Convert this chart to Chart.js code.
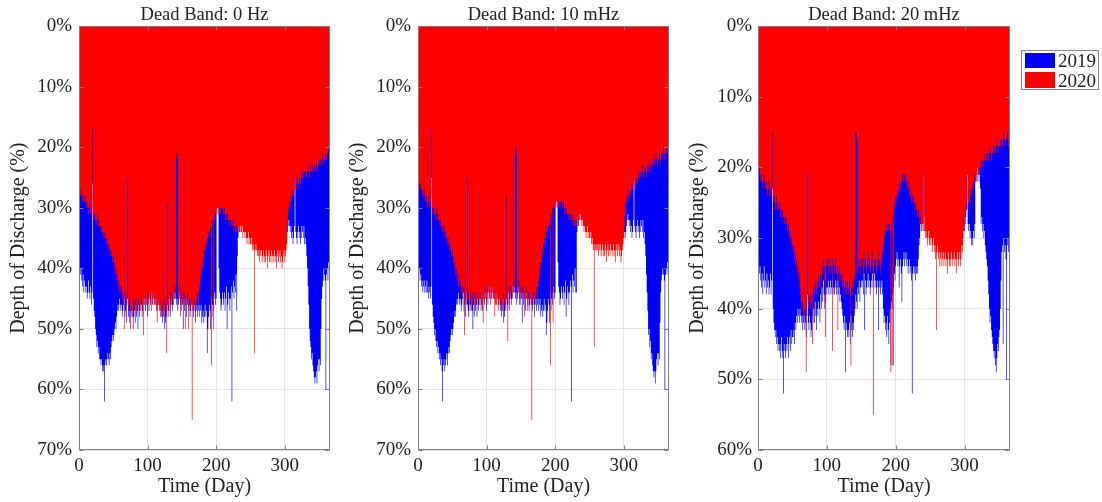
<!DOCTYPE html>
<html lang="en">
<head>
<meta charset="UTF-8">
<title>Depth of Discharge by Dead Band</title>
<script src="https://cdn.jsdelivr.net/npm/chart.js"></script>
<style>
  body {
    margin: 0;
    background: #fff;
    width: 1102px;
    height: 502px;
    overflow: hidden;
    position: relative;
    font-family: 'Liberation Serif', 'Times New Roman', serif;
  }
  canvas { position: absolute; top: 0; }
  #c1 { left: 0; }
  #c2 { left: 340px; }
  #c3 { left: 680px; }
  .legend {
    position: absolute; left: 1021px; top: 50px;
    width: 76px; height: 38px;
    border: 1px solid #8a8a8a; background: #fff;
  }
  .legend .sw { position: absolute; left: 3px; width: 30px; height: 15px; }
  .legend .lbl { position: absolute; left: 36px; font-size: 19px; line-height: 20px; color: #222; }
</style>
</head>
<body>
  <canvas id="c1" width="345" height="502"></canvas>
  <canvas id="c2" width="344" height="502"></canvas>
  <canvas id="c3" width="345" height="502"></canvas>
  <div class="legend">
    <div class="sw" style="top:2px; background:#0000ff;"></div>
    <div class="lbl" style="top:0px;">2019</div>
    <div class="sw" style="top:21px; height:16px; background:#ff0000;"></div>
    <div class="lbl" style="top:20px;">2020</div>
  </div>

<script>
const panelTitles = ['Dead Band: 0 Hz', 'Dead Band: 10 mHz', 'Dead Band: 20 mHz'];
const yMaxes = [70, 70, 60];
const days = Array.from({ length: 365 }, (_, i) => i + 1);

// depth of discharge (%) per day, dead band 0 Hz
const dead0_2019 = [
  39,41,40,42,43,41,44,42,43,44, 43,45,44,42,44,45,43,46,44,26,
  45,47,48,50,51,53,52,54,53,55, 55,56,55,57,56,57,62,56,55,56,
  55,54,55,56,54,55,53,52,51,52, 51,50,49,50,48,47,46,47,45,46,
  47,46,48,47,46,45,48,47,49,46, 45,48,47,49,46,48,47,46,50,48,
  47,49,46,48,47,50,46,48,47,45, 46,48,47,45,46,44,47,45,46,48,
  45,47,44,46,45,43,46,44,45,46, 44,46,45,47,45,46,44,47,46,48,
  47,49,48,46,50,49,48,47,46,48, 47,45,48,46,45,47,46,44,45,44,
  45,46,45,47,46,44,45,46,47,45, 46,50,45,47,46,45,48,46,45,47,
  46,48,47,46,45,47,48,46,47,49, 47,46,48,47,46,48,47,46,49,48,
  47,49,48,46,48,47,54,50,48,46, 47,50,45,48,46,47,45,44,46,45,
  30,29,30,40,44,45,47,46,44,45, 46,44,47,45,43,50,46,44,45,47,
  45,43,62,44,42,45,43,44,41,47, 38,35,33,34,32,33,31,33,32,31,
  32,33,31,32,33,34,32,33,32,33, 34,33,32,34,33,35,34,33,34,35,
  35,34,36,35,34,35,36,34,35,36, 35,36,34,35,37,35,34,36,35,36,
  34,35,36,35,34,36,35,37,35,34, 36,35,34,36,35,37,36,35,34,36,
  35,36,35,34,33,32,33,34,33,35, 34,36,35,33,25,34,35,36,34,33,
  35,34,36,35,33,34,35,33,36,35, 36,38,40,43,46,50,52,53,55,54,
  56,57,58,59,58,57,59,56,55,57, 55,56,50,45,43,42,40,41,42,60,
  41,40,42,39,40
];
const dead0_2020 = [
  28,28,27,28,29,28,29,29,28,29, 30,29,30,31,30,29,31,30,31,17,
  31,32,31,32,33,32,31,33,32,33, 33,34,33,34,35,34,35,34,35,36,
  35,36,37,36,37,38,37,38,39,38, 39,40,41,40,42,41,43,42,44,43,
  44,43,45,44,46,50,45,44,46,45, 25,47,46,45,50,47,46,48,47,45,
  46,47,45,48,46,47,45,46,47,46, 45,47,46,51,45,46,44,46,45,47,
  46,44,45,46,44,47,45,46,44,45, 46,45,47,49,46,45,47,46,48,47,
  46,48,47,45,47,46,48,54,29,47, 46,45,47,44,46,45,44,46,45,43,
  44,21,21,22,44,45,43,48,46,44, 45,46,44,45,50,46,45,44,46,50,
  45,47,46,45,65,46,47,45,46,48, 46,45,44,46,44,43,42,41,40,40,
  39,38,37,37,36,36,35,35,34,34, 34,33,56,33,32,50,32,31,31,30,
  31,30,31,30,31,30,31,30,30,30, 31,30,31,32,31,32,31,32,33,32,
  32,33,32,33,32,34,33,34,33,34, 33,34,33,34,33,34,34,33,35,34,
  34,35,34,35,36,35,34,36,35,36, 36,35,37,36,37,54,37,36,37,38,
  37,38,39,37,38,37,39,38,37,39, 38,39,37,38,40,38,37,39,38,39,
  37,38,39,38,37,39,38,40,38,37, 39,38,37,39,38,40,39,38,37,39,
  38,37,36,33,31,30,29,30,28,29, 28,27,28,27,25,27,26,25,26,27,
  26,25,26,25,24,25,24,25,24,24, 24,25,24,23,24,25,24,23,24,24,
  23,24,23,24,23,22,23,24,23,22, 23,22,23,22,21,22,23,22,21,22,
  21,22,21,20,21
];

// dead band 10 mHz
const dead10_2019 = [
  39,40,42,41,43,42,44,43,42,44, 43,44,42,44,45,43,44,45,43,25,
  46,48,49,51,50,52,53,52,54,53, 55,54,56,55,57,62,56,55,57,56,
  55,54,56,54,53,54,52,51,50,51, 50,49,48,47,48,46,45,46,44,45,
  46,45,47,46,45,44,47,46,48,45, 44,46,47,48,45,47,46,45,47,50,
  46,48,45,47,46,48,45,47,46,44, 45,47,46,44,45,43,46,44,45,47,
  44,46,43,45,44,42,45,43,44,45, 43,45,44,46,44,45,43,46,45,47,
  46,48,47,45,49,48,47,46,45,47, 46,44,47,45,44,46,45,43,44,43,
  44,45,44,46,45,43,44,45,46,44, 45,49,44,46,45,44,47,45,44,46,
  45,47,46,45,44,46,47,45,46,48, 46,45,47,46,45,47,46,45,48,47,
  46,48,47,45,47,46,51,49,47,45, 46,49,44,47,45,46,44,43,45,44,
  29,28,29,39,43,44,46,45,43,44, 45,43,46,44,42,48,45,43,44,46,
  44,42,43,62,41,44,42,43,40,44, 44,34,32,33,31,32,30,32,31,30,
  31,32,30,31,32,33,31,32,31,32, 33,32,31,33,32,34,33,32,33,34,
  34,33,35,34,33,34,35,33,34,35, 34,35,33,34,36,34,33,35,34,35,
  33,34,35,34,33,35,34,36,34,33, 35,34,33,35,34,36,35,34,33,35,
  34,35,34,33,32,31,32,33,32,34, 33,35,34,32,25,33,34,35,33,32,
  34,33,35,34,32,33,34,32,35,34, 36,38,41,44,47,51,50,53,52,55,
  54,56,57,58,57,59,57,55,54,56, 54,55,49,44,42,41,40,41,42,60,
  41,40,41,39,40
];
const dead10_2020 = [
  27,26,27,26,27,28,27,28,27,28, 29,28,29,30,29,28,30,29,30,17,
  30,31,30,31,32,31,30,32,31,32, 32,33,32,33,34,33,34,33,34,35,
  34,35,36,35,36,37,36,37,38,37, 38,39,40,39,41,40,42,41,43,42,
  43,42,44,43,45,44,43,51,45,44, 46,25,45,44,46,45,44,47,46,44,
  45,46,44,47,45,46,44,45,46,45, 44,46,45,47,49,45,43,45,44,46,
  45,43,44,45,43,46,44,45,43,44, 45,48,46,44,46,45,47,46,45,46,
  45,47,46,44,46,45,47,46,28,45, 52,44,46,43,45,44,43,45,44,42,
  43,21,20,21,43,44,42,46,45,43, 44,45,43,44,48,45,44,43,45,47,
  44,46,45,44,46,65,45,44,45,46, 45,44,43,45,43,42,41,40,39,39,
  38,37,36,36,35,35,34,34,33,33, 33,32,56,32,31,30,49,30,30,29,
  30,29,30,29,30,29,30,29,29,29, 30,29,30,31,30,31,30,31,32,31,
  31,32,31,32,31,33,32,33,32,33, 32,33,32,33,31,32,31,32,33,32,
  33,34,33,34,35,34,33,35,34,35, 35,34,36,35,36,37,53,36,37,37,
  36,37,38,36,37,36,38,37,36,38, 37,38,36,37,39,37,36,38,37,38,
  36,37,38,37,36,38,37,39,37,36, 38,37,36,38,37,39,38,37,36,35,
  33,31,29,28,29,27,28,29,27,28, 27,26,27,26,25,26,27,26,25,26,
  25,24,25,24,25,24,23,24,25,24, 23,24,25,24,23,24,23,22,23,24,
  23,22,23,22,23,22,21,22,23,22, 22,21,22,23,21,22,21,20,21,22,
  21,20,21,20,21
];

// dead band 20 mHz
const dead20_2019 = [
  33,35,34,36,37,35,38,36,34,37, 36,38,35,37,36,38,37,35,38,36,
  23,40,42,43,44,43,45,44,46,45, 46,45,47,44,46,47,52,45,46,47,
  45,46,44,47,45,44,46,43,45,44, 44,43,45,42,43,41,42,40,41,42,
  40,41,42,41,43,42,41,43,42,44, 41,38,42,43,41,42,44,43,41,42,
  40,42,39,41,43,40,41,39,40,42, 38,40,37,39,36,38,40,39,37,38,
  37,36,38,37,36,38,37,36,38,37, 38,37,36,38,37,36,38,37,39,38,
  39,40,41,42,43,41,49,42,43,44, 43,44,42,45,41,43,44,42,43,41,
  40,38,39,40,37,38,36,39,37,36, 37,36,38,35,43,36,38,37,36,35,
  37,36,38,37,36,35,37,36,35,37, 36,38,37,36,43,37,36,38,37,36,
  38,40,42,41,43,42,44,41,43,45, 42,40,48,39,40,38,37,35,36,34,
  33,32,34,33,37,34,33,35,39,34, 33,32,34,33,32,34,33,35,34,33,
  35,34,36,52,35,34,35,34,36,35, 34,35,33,31,30,28,29,27,26,28,
  21,27,28,26,27,28,27,26,28,27, 29,28,30,29,28,30,29,31,30,30,
  29,31,30,32,31,30,32,31,30,32, 31,30,32,31,33,31,30,32,31,32,
  30,31,32,31,30,32,31,33,31,30, 32,31,30,32,31,30,31,29,28,29,
  28,27,26,21,28,29,28,30,29,31, 30,31,29,30,28,22,21,22,20,21,
  22,21,23,28,27,29,28,30,29,31, 32,33,34,36,38,40,42,41,43,44,
  45,46,47,46,48,49,47,45,46,44, 43,40,36,32,31,45,30,32,31,33,
  50,31,30,32,31
];
const dead20_2020 = [
  14,20,21,22,21,22,23,22,21,22, 23,22,23,24,23,22,24,23,24,23,
  15,24,25,24,26,25,24,26,25,26, 26,25,27,26,27,26,27,28,27,28,
  27,28,29,28,29,30,29,31,30,31, 32,31,33,32,34,33,35,34,36,35,
  37,38,39,40,39,41,40,41,40,49, 39,21,40,38,39,40,38,39,45,38,
  37,38,36,37,38,36,37,35,36,37, 35,36,34,35,33,34,36,44,34,33,
  34,33,35,34,33,35,34,46,33,34, 35,34,33,35,34,43,35,34,36,35,
  36,35,37,36,38,37,36,38,37,36, 38,37,36,38,48,37,38,36,37,35,
  36,15,15,16,35,34,33,35,34,33, 34,33,35,32,34,33,35,34,33,32,
  34,33,35,34,33,32,34,55,33,34, 33,35,34,33,32,34,33,35,34,33,
  32,31,30,29,30,29,28,29,28,29, 28,29,49,28,48,27,48,26,25,24,
  25,24,23,24,23,22,23,22,22,21, 22,21,21,22,21,22,23,22,23,24,
  23,24,25,24,25,24,25,26,25,26, 26,27,26,27,28,27,28,29,28,29,
  21,29,30,29,30,31,30,29,31,30, 31,30,32,31,30,32,31,33,43,32,
  31,33,32,34,33,32,34,33,32,34, 33,32,34,33,35,33,32,34,33,34,
  32,33,34,33,32,34,33,35,33,32, 34,33,32,34,33,31,32,30,29,28,
  27,26,25,21,26,25,24,25,23,24, 23,22,23,22,21,22,21,22,20,21,
  20,21,20,19,20,19,20,19,18,19, 19,18,19,18,19,18,17,18,19,18,
  18,17,18,17,18,17,16,17,18,17, 17,16,17,16,17,16,15,16,17,16,
  16,15,16,17,17
];

const serif = "'Liberation Serif', 'Times New Roman', serif";
const textColor = '#222';

// axes box with small inward ticks, like the original figure
const boxPlugin = {
  id: 'box',
  afterDraw(chart) {
    const { ctx, chartArea: a, scales } = chart;
    const l = Math.round(a.left) + 0.5, r = Math.round(a.right) - 0.5;
    const t = Math.round(a.top) + 0.5, b = Math.round(a.bottom) - 0.5;
    ctx.save();
    ctx.strokeStyle = '#7f7f7f';
    ctx.lineWidth = 1;
    ctx.strokeRect(l, t, r - l, b - t);
    ctx.beginPath();
    scales.y.ticks.forEach(tk => {
      const p = Math.round(scales.y.getPixelForValue(tk.value)) + 0.5;
      ctx.moveTo(l, p); ctx.lineTo(l + 4, p);
      ctx.moveTo(r, p); ctx.lineTo(r - 4, p);
    });
    scales.x.ticks.forEach(tk => {
      const p = Math.round(scales.x.getPixelForValue(tk.value)) + 0.5;
      ctx.moveTo(p, b); ctx.lineTo(p, b - 4);
      ctx.moveTo(p, t); ctx.lineTo(p, t + 4);
    });
    ctx.stroke();
    ctx.restore();
  }
};

function area(label, values, color, order) {
  return {
    label: label,
    data: days.map((d, i) => ({ x: d, y: values[i] })),
    backgroundColor: color,
    borderColor: color,
    borderWidth: 0,
    fill: 'origin',
    stepped: 'middle',
    pointRadius: 0,
    pointHoverRadius: 0,
    order: order
  };
}

function drawPanel(id, title, y2019, y2020, yMax, yWidth, yTitlePad, yTickPad) {
  return new Chart(document.getElementById(id), {
    type: 'line',
    data: {
      datasets: [
        area('2020', y2020, '#ff0000', 0),
        area('2019', y2019, '#0000ff', 1)
      ]
    },
    options: {
      responsive: false,
      animation: false,
      events: [],
      layout: { padding: { left: 0, right: 15, top: 0, bottom: 0 } },
      plugins: {
        legend: { display: false },
        tooltip: { enabled: false },
        title: {
          display: true, text: title, color: textColor, fullSize: false,
          font: { family: serif, size: 18.5, weight: 'normal' },
          padding: { top: 4, bottom: 0 }
        }
      },
      scales: {
        x: {
          type: 'linear', min: 0, max: 366, offset: false,
          ticks: { stepSize: 100, includeBounds: false, padding: 5, maxRotation: 0,
                   color: textColor, font: { family: serif, size: 19 } },
          grid: { color: '#e4e4e4', drawTicks: false },
          border: { display: false },
          title: { display: true, text: 'Time (Day)', color: textColor,
                   font: { family: serif, size: 20 }, padding: { top: 0, bottom: 3 } },
          afterFit: s => { s.height = 52; }
        },
        y: {
          type: 'linear', reverse: true, min: 0, max: yMax,
          ticks: { stepSize: 10, padding: yTickPad, color: textColor,
                   font: { family: serif, size: 19 }, callback: v => v + '%' },
          grid: { color: '#e4e4e4', drawTicks: false },
          border: { display: false },
          title: { display: true, text: 'Depth of Discharge (%)', color: textColor,
                   font: { family: serif, size: 20 }, padding: { top: yTitlePad, bottom: 0 } },
          afterFit: s => { s.width = yWidth; }
        }
      }
    },
    plugins: [boxPlugin]
  });
}

drawPanel('c1', panelTitles[0], dead0_2019, dead0_2020, yMaxes[0], 79, 7, 7);
drawPanel('c2', panelTitles[1], dead10_2019, dead10_2020, yMaxes[1], 78, 6, 7);
drawPanel('c3', panelTitles[2], dead20_2019, dead20_2020, yMaxes[2], 78, 6, 6);
</script>
</body>
</html>
